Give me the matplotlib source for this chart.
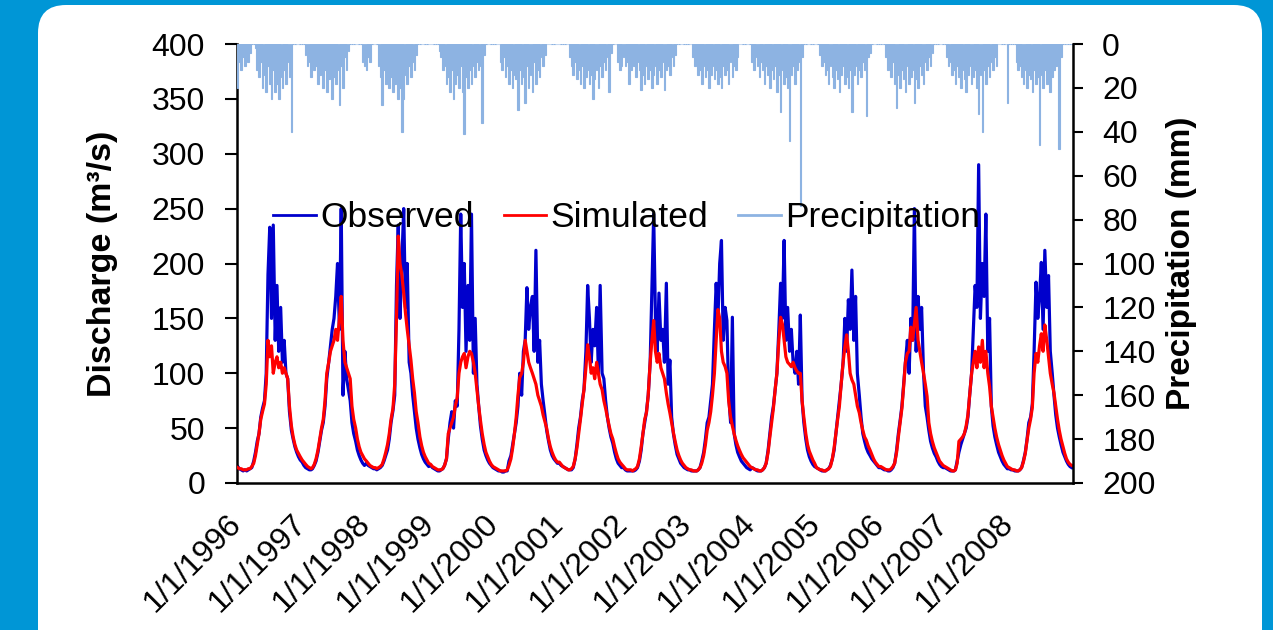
import datetime
import matplotlib
matplotlib.use("Agg")
import matplotlib.pyplot as plt
from matplotlib.lines import Line2D
from matplotlib.patches import FancyBboxPatch
from matplotlib.transforms import IdentityTransform

plt.rcParams['font.family'] = ['Liberation Sans', 'DejaVu Sans']

# dekad (10-day) values, one row per year 1996-2008, 36 dekads each
years = list(range(1996, 2009))

observed = [
    15, 13, 12, 11, 12, 11, 12, 13, 14, 20, 28, 38, 45, 60, 68, 75, 100, 190, 233, 150, 235, 130, 180, 120, 160, 110, 130, 100, 95, 65, 48, 40, 33, 28, 24, 21,
    19, 16, 14, 13, 12, 12, 13, 16, 20, 28, 38, 48, 55, 70, 95, 110, 125, 140, 150, 170, 200, 140, 250, 80, 120, 95, 85, 75, 55, 45, 38, 30, 25, 21, 18, 16,
    18, 16, 15, 14, 13, 13, 12, 13, 14, 16, 20, 25, 30, 40, 55, 66, 80, 180, 235, 150, 200, 250, 160, 200, 110, 100, 80, 65, 50, 40, 32, 26, 22, 19, 17, 15,
    16, 14, 13, 12, 11, 11, 12, 13, 16, 22, 40, 55, 65, 50, 75, 70, 140, 245, 160, 200, 120, 180, 130, 245, 100, 150, 90, 70, 52, 40, 30, 25, 21, 18, 16, 14,
    13, 12, 11, 11, 10, 10, 11, 11, 20, 25, 35, 45, 55, 70, 100, 80, 120, 130, 178, 140, 160, 170, 120, 212, 110, 130, 90, 75, 62, 48, 38, 30, 25, 22, 20, 18,
    18, 16, 15, 14, 13, 12, 12, 12, 14, 22, 35, 50, 60, 75, 85, 120, 180, 150, 110, 140, 125, 160, 100, 180, 100, 95, 75, 60, 50, 42, 36, 28, 22, 18, 16, 14,
    14, 12, 11, 11, 11, 11, 11, 12, 14, 20, 30, 45, 55, 65, 80, 110, 178, 245, 150, 120, 173, 130, 140, 110, 182, 90, 112, 60, 45, 35, 26, 22, 18, 16, 14, 13,
    12, 12, 11, 11, 11, 11, 12, 14, 20, 28, 40, 55, 60, 75, 90, 140, 182, 150, 200, 221, 130, 160, 148, 80, 55, 151, 45, 35, 28, 24, 20, 18, 16, 14, 13, 12,
    14, 13, 12, 11, 11, 11, 12, 14, 18, 30, 45, 60, 70, 85, 100, 140, 182, 150, 221, 130, 160, 120, 140, 110, 100, 120, 90, 153, 75, 55, 40, 30, 24, 20, 17, 15,
    14, 13, 12, 11, 11, 11, 12, 13, 16, 22, 30, 45, 60, 75, 90, 110, 150, 120, 167, 140, 194, 130, 170, 100, 80, 60, 45, 38, 32, 28, 25, 22, 20, 18, 16, 14,
    14, 13, 12, 12, 11, 11, 12, 14, 18, 30, 45, 57, 70, 90, 110, 130, 100, 150, 130, 250, 120, 170, 140, 160, 100, 70, 60, 48, 38, 32, 27, 24, 20, 17, 15, 14,
    14, 13, 12, 11, 11, 11, 12, 20, 28, 35, 40, 45, 50, 60, 80, 100, 140, 180, 160, 290, 150, 200, 170, 245, 120, 150, 70, 52, 42, 35, 28, 24, 20, 17, 15, 13,
    13, 12, 12, 11, 11, 11, 12, 14, 20, 28, 40, 55, 60, 72, 120, 183, 150, 170, 201, 140, 212, 160, 189, 120, 100, 80, 62, 50, 42, 35, 28, 24, 20, 17, 15, 14,
]

simulated = [
    14, 13, 13, 12, 12, 12, 13, 13, 15, 18, 25, 35, 45, 58, 65, 72, 90, 130, 115, 125, 100, 110, 115, 105, 110, 100, 105, 100, 95, 70, 52, 42, 35, 30, 27, 24,
    21, 19, 17, 15, 14, 13, 14, 17, 22, 30, 40, 50, 58, 75, 100, 110, 120, 125, 130, 140, 130, 150, 170, 130, 110, 105, 100, 95, 70, 58, 50, 40, 33, 28, 25, 22,
    20, 18, 16, 15, 14, 14, 13, 14, 15, 17, 22, 28, 35, 45, 58, 68, 90, 150, 225, 200, 190, 173, 155, 140, 125, 112, 95, 82, 65, 55, 42, 34, 28, 24, 21, 18,
    17, 15, 14, 13, 12, 12, 12, 13, 16, 22, 45, 50, 55, 60, 70, 78, 100, 110, 115, 118, 105, 115, 120, 118, 110, 100, 85, 70, 57, 45, 35, 28, 24, 20, 17, 15,
    14, 13, 12, 11, 11, 11, 11, 12, 16, 22, 32, 45, 60, 80, 96, 100, 110, 130, 120, 110, 105, 100, 95, 90, 80, 75, 70, 62, 56, 50, 40, 33, 28, 24, 21, 19,
    19, 17, 15, 14, 13, 12, 12, 13, 15, 22, 32, 45, 58, 72, 85, 105, 126, 115, 100, 105, 95, 110, 100, 90, 85, 75, 68, 60, 52, 45, 40, 33, 27, 22, 19, 17,
    15, 13, 12, 12, 12, 11, 12, 13, 15, 22, 33, 45, 58, 64, 80, 110, 130, 148, 120, 110, 118, 105, 100, 95, 82, 72, 64, 55, 46, 38, 30, 25, 21, 18, 16, 14,
    13, 12, 12, 11, 11, 11, 12, 14, 18, 25, 35, 48, 55, 65, 80, 100, 130, 158, 150, 120, 110, 106, 100, 75, 60, 52, 45, 39, 34, 30, 26, 23, 21, 19, 17, 15,
    14, 13, 12, 12, 11, 11, 12, 14, 18, 28, 42, 55, 68, 85, 100, 130, 151, 145, 130, 115, 110, 108, 106, 110, 105, 102, 100, 100, 75, 60, 45, 35, 29, 25, 21, 18,
    14, 13, 12, 12, 11, 11, 12, 13, 15, 22, 32, 45, 58, 70, 90, 110, 124, 135, 120, 100, 94, 90, 80, 70, 64, 55, 48, 42, 39, 34, 30, 26, 22, 19, 17, 15,
    15, 14, 13, 12, 12, 12, 13, 15, 18, 28, 42, 55, 68, 88, 110, 118, 120, 142, 130, 145, 160, 130, 120, 110, 100, 90, 79, 55, 45, 38, 32, 28, 24, 20, 18, 16,
    15, 14, 13, 12, 11, 11, 12, 18, 38, 40, 42, 45, 52, 62, 80, 100, 110, 120, 105, 124, 110, 130, 105, 120, 100, 88, 70, 60, 50, 42, 35, 30, 25, 21, 18, 15,
    14, 13, 12, 12, 11, 11, 12, 14, 19, 27, 39, 50, 58, 69, 100, 118, 110, 125, 136, 120, 144, 130, 115, 100, 90, 82, 70, 58, 48, 40, 33, 27, 22, 19, 17, 16,
]

precipitation = [
    20, 8, 12, 6, 10, 5, 8, 4, 0, 0, 2, 12, 15, 8, 20, 14, 22, 10, 18, 25, 12, 22, 18, 25, 15, 20, 12, 18, 8, 15, 40, 0, 0, 0, 0, 0,
    0, 0, 5, 10, 8, 15, 6, 12, 10, 18, 14, 8, 20, 12, 22, 16, 10, 25, 15, 18, 12, 28, 10, 20, 6, 12, 3, 0, 0, 0, 0, 0, 0, 0, 8, 10,
    12, 6, 8, 0, 0, 0, 0, 10, 15, 28, 12, 18, 10, 20, 15, 22, 18, 12, 25, 20, 40, 25, 14, 18, 10, 15, 8, 12, 5, 0, 0, 0, 0, 0, 0, 0,
    0, 0, 0, 0, 0, 3, 6, 12, 10, 18, 15, 22, 12, 25, 18, 14, 20, 10, 22, 41, 15, 20, 12, 18, 10, 15, 8, 12, 10, 36, 5, 0, 0, 0, 0, 0,
    0, 0, 0, 8, 12, 6, 15, 10, 18, 12, 20, 14, 16, 30, 12, 18, 15, 27, 10, 20, 14, 22, 8, 18, 12, 15, 6, 10, 5, 0, 0, 0, 0, 0, 0, 0,
    0, 0, 0, 0, 0, 0, 6, 10, 14, 8, 16, 12, 18, 10, 20, 15, 12, 18, 14, 25, 16, 12, 20, 10, 15, 8, 12, 6, 22, 4, 0, 0, 0, 8, 12, 10,
    6, 10, 8, 18, 12, 6, 10, 15, 8, 12, 21, 14, 18, 10, 16, 12, 20, 14, 10, 18, 12, 15, 8, 21, 12, 10, 14, 6, 10, 5, 0, 0, 0, 0, 0, 0,
    0, 0, 0, 6, 10, 8, 14, 12, 18, 10, 15, 12, 20, 14, 10, 16, 12, 18, 15, 20, 10, 14, 12, 18, 8, 15, 10, 12, 6, 0, 0, 0, 0, 0, 0, 0,
    8, 12, 6, 10, 15, 8, 12, 18, 10, 14, 20, 12, 16, 10, 22, 14, 31, 12, 18, 15, 20, 44, 14, 10, 18, 12, 8, 74, 6, 0, 0, 0, 0, 0, 0, 0,
    0, 0, 5, 10, 8, 14, 12, 18, 10, 15, 20, 12, 16, 22, 14, 10, 18, 15, 20, 12, 31, 14, 10, 18, 12, 15, 8, 12, 33, 6, 4, 0, 0, 0, 0, 0,
    0, 0, 0, 6, 12, 10, 15, 8, 18, 29, 14, 20, 12, 16, 22, 10, 18, 15, 12, 27, 16, 20, 10, 14, 18, 8, 12, 6, 10, 4, 0, 0, 0, 0, 0, 0,
    0, 6, 10, 8, 14, 12, 18, 10, 15, 20, 12, 16, 22, 14, 10, 18, 15, 12, 20, 32, 14, 40, 12, 18, 10, 15, 8, 12, 6, 10, 0, 0, 0, 0, 0, 27,
    0, 0, 0, 0, 8, 12, 10, 15, 18, 12, 20, 14, 16, 22, 12, 18, 15, 46, 14, 20, 12, 18, 10, 22, 15, 12, 10, 8, 48, 6, 0, 0, 0, 0, 0, 0,
]

tick_labels = ['1/1/%d' % y for y in years]

# dekad dates: 5th, 15th, 25th of each month
dates = [datetime.date(y, d // 3 + 1, (5, 15, 25)[d % 3]) for y in years for d in range(36)]

fig = plt.figure(figsize=(12.73, 6.30), dpi=100)
fig.patch.set_facecolor('#0096d6')
panel = FancyBboxPatch((38, -40), 1224, 665, boxstyle='round,pad=0,rounding_size=28',
                       transform=IdentityTransform(), facecolor='white', edgecolor='none', zorder=0)
fig.add_artist(panel)

ax = fig.add_axes([237 / 1273, 1 - 483 / 630, 836 / 1273, 439 / 630])
ax.set_facecolor('none')
ax2 = ax.twinx()

ax.plot(dates, observed, color='#0000cc', lw=2.3, zorder=2)
ax.plot(dates, simulated, color='#ff0000', lw=2.3, zorder=3)
ax2.bar(dates, precipitation, width=9, color='#8db3e2', edgecolor='#8db3e2', linewidth=0.8)

ax.set_xlim(datetime.date(1996, 1, 1), datetime.date(2009, 1, 1))
ax.set_ylim(0, 400)
ax2.set_ylim(200, 0)
ax.set_yticks(range(0, 401, 50))
ax2.set_yticks(range(0, 201, 20))

ax.set_xticks([datetime.date(y, 1, 1) for y in years])
ax.set_xticklabels(tick_labels, rotation=45, ha='right', va='center', rotation_mode='anchor')

fs = 23
ax.tick_params(axis='y', direction='out', length=9, width=1.5, labelsize=fs, pad=14)
ax2.tick_params(axis='y', direction='out', length=7, width=1.5, labelsize=fs, pad=14)
ax.tick_params(axis='x', length=0, labelsize=fs, pad=26)

for a in (ax, ax2):
    a.spines['top'].set_visible(False)
    for s in ('left', 'right', 'bottom'):
        a.spines[s].set_linewidth(1.8)
ax.spines['right'].set_visible(False)
ax2.spines['left'].set_visible(False)
ax2.spines['bottom'].set_visible(False)

ax.set_ylabel('Discharge (m³/s)', fontsize=24.5, fontweight='bold')
ax.yaxis.set_label_coords(-0.142, 0.5)
ax2.set_ylabel('Precipitation (mm)', fontsize=24, fontweight='bold')
ax2.yaxis.set_label_coords(1.111, 0.5)

handles = [Line2D([], [], color='#0000cc', lw=2),
           Line2D([], [], color='#ff0000', lw=2),
           Line2D([], [], color='#8db3e2', lw=2)]
ax2.legend(handles, ['Observed', 'Simulated', 'Precipitation'], loc='center',
           bbox_to_anchor=(0.466, 0.604), ncol=3, frameon=False, fontsize=25.5,
           handlelength=1.2, handletextpad=0.12, columnspacing=0.85, borderaxespad=0)

fig.savefig('out.png', dpi=100, facecolor=fig.get_facecolor())
